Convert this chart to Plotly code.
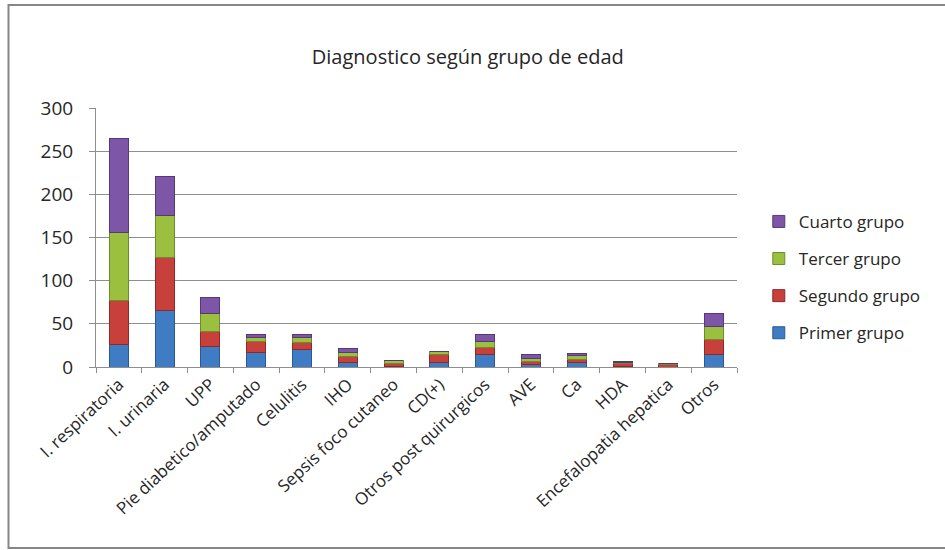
import plotly.graph_objects as go

categories = ["I. respiratoria", "I. urinaria", "UPP", "Pie diabetico/amputado", "Celulitis",
              "IHO", "Sepsis foco cutaneo", "CD(+)", "Otros post quirurgicos", "AVE", "Ca",
              "HDA", "Encefalopatia hepatica", "Otros"]
primer = [26, 66, 24, 17, 20, 5, 1, 5, 15, 3, 5, 1, 0, 15]
segundo = [51, 61, 17, 12, 8, 7, 3, 10, 8, 3, 4, 3, 3, 17]
tercer = [79, 48, 21, 5, 6, 5, 3, 3, 7, 4, 4, 1, 1, 15]
cuarto = [109, 46, 18, 4, 4, 4, 0, 0, 8, 4, 3, 1, 0, 15]

series = [
    ("Primer grupo", primer, "#3F7CC4", "#2A5A94", 4),
    ("Segundo grupo", segundo, "#C8403C", "#8C2A28", 3),
    ("Tercer grupo", tercer, "#9BC040", "#6E8A2E", 2),
    ("Cuarto grupo", cuarto, "#7E56A8", "#563A78", 1),
]

fig = go.Figure()
for name, vals, col, edge, rank in series:
    fig.add_trace(go.Bar(
        x=categories, y=vals, name=name, legendgroup=name, legendrank=rank,
        marker=dict(color=col, line=dict(color=edge, width=1)),
    ))

font_family = "'Open Sans', Lato, sans-serif"
txt = "#262626"

fig.update_layout(
    barmode="stack",
    bargap=0.585,
    width=945, height=550,
    margin=dict(l=96, r=208, t=108, b=183),
    paper_bgcolor="white", plot_bgcolor="white",
    font=dict(family=font_family, size=17, color=txt),
    title=dict(text="Diagnostico según grupo de edad", x=0.495, xref="container",
               y=1 - 57 / 550, yref="container", xanchor="center", yanchor="middle",
               font=dict(size=20, color=txt)),
    legend=dict(x=1.034, xanchor="left", y=0.346, yanchor="middle",
                traceorder="grouped", tracegroupgap=12,
                font=dict(size=17, color=txt)),
    showlegend=True,
    xaxis=dict(tickangle=-43, ticks="outside", tickson="boundaries", ticklen=5,
               tickcolor="#8E8E8E", showline=True, linecolor="#8E8E8E",
               tickfont=dict(size=17, color=txt)),
    yaxis=dict(range=[0, 300], dtick=50, ticks="outside", ticklen=6,
               tickcolor="#8E8E8E", showline=True, linecolor="#8E8E8E",
               gridcolor="#8E8E8E", gridwidth=1, zeroline=False,
               ticklabelstandoff=12,
               tickfont=dict(size=19, color=txt)),
)

# outer chart frame
pw, ph = 641, 259
fig.add_shape(type="rect", xref="paper", yref="paper",
              x0=(8.5 - 96) / pw, x1=(960 - 96) / pw,
              y0=(367 - 548) / ph, y1=(367 - 5) / ph,
              line=dict(color="#868686", width=2), fillcolor="rgba(0,0,0,0)")

fig.write_html("out.html")
